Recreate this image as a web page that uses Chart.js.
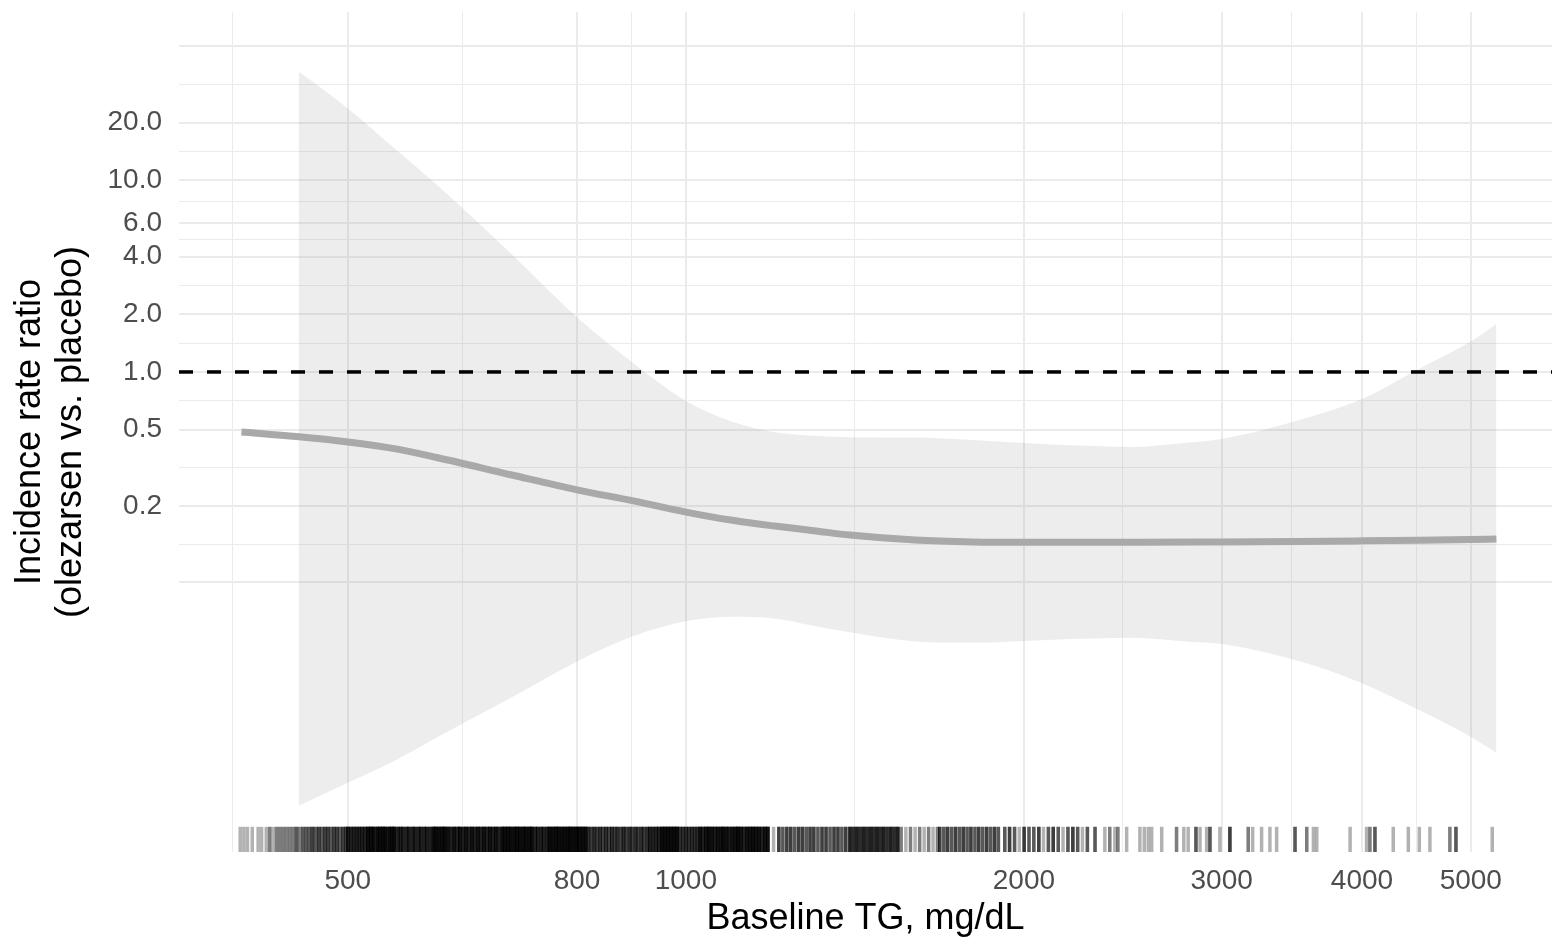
<!DOCTYPE html>
<html>
<head>
<meta charset="utf-8">
<script src="https://cdn.jsdelivr.net/npm/chart.js@4.4.1/dist/chart.umd.min.js"></script>
<style>
  html, body { margin: 0; padding: 0; background: #fff; }
  canvas { display: block; }
</style>
</head>
<body>
<canvas id="chart" width="1552" height="940"></canvas>
<script>
// axis ranges (TG in mg/dL, IRR)
const xRange = [353.7, 5906];
const yRange = [0.00313, 75.5];

// tick positions and labels
const xMajor = [500, 800, 1000, 2000, 3000, 4000, 5000];
const xLabels = ['500', '800', '1000', '2000', '3000', '4000', '5000'];
const xMinor = [395, 632, 894, 1414, 2449, 3464, 4472];
const yMajor = [0.08, 0.2, 0.5, 1, 2, 4, 6, 10, 20, 50];
const yLabels = ['', '0.2', '0.5', '1.0', '2.0', '4.0', '6.0', '10.0', '20.0', ''];
const yMinor = [0.126, 0.316, 0.707, 1.41, 2.83, 4.9, 7.75, 14.1, 31.6];

// confidence band
const bandTG = [452, 500, 550, 600, 700, 800, 900, 1000, 1100, 1200, 1300, 1400, 1600, 1800, 2000, 2200, 2500, 2800, 3000, 3500, 4000, 4500, 5000, 5270];
const bandUpper = [36.9, 23.7, 14.7, 9.47, 4.10, 1.93, 1.10, 0.706, 0.550, 0.485, 0.465, 0.457, 0.455, 0.441, 0.426, 0.414, 0.406, 0.428, 0.447, 0.556, 0.723, 1.04, 1.44, 1.78];
const bandLower = [0.00545, 0.0072, 0.00935, 0.0124, 0.0201, 0.0309, 0.0420, 0.0500, 0.0528, 0.0518, 0.0474, 0.0438, 0.0393, 0.0386, 0.0395, 0.0404, 0.0410, 0.0391, 0.0381, 0.0312, 0.0238, 0.0172, 0.0125, 0.0103];

// fitted IRR
const fitTG = [402, 450, 500, 550, 600, 700, 800, 900, 1000, 1100, 1200, 1300, 1400, 1600, 1800, 2000, 2500, 3000, 3500, 4000, 4500, 5000, 5270];
const fitIRR = [0.486, 0.460, 0.431, 0.398, 0.358, 0.290, 0.2427, 0.2118, 0.1858, 0.1683, 0.157, 0.1486, 0.1409, 0.1327, 0.1297, 0.1291, 0.1291, 0.1297, 0.1305, 0.1315, 0.1325, 0.1336, 0.1344];

// reference line IRR = 1
const refTG = [353.7, 5906];
const refIRR = [1, 1];

// rug: baseline TG values and how many patients overlap at each
const rugTG = [
  401, 404, 407, 411, 416, 419, 423, 426, 429, 432, 435, 438, 441, 444, 447, 450, 453, 456, 459, 462, 465, 468, 471, 474, 477, 480, 483, 486, 489, 492, 495, 498,
  500, 503, 506, 509, 512, 515, 518, 521, 524, 527, 531, 534, 537, 540, 544, 547, 550, 554, 557, 560, 564, 567, 571, 574, 578, 581, 585, 588, 592, 596, 599, 603, 607, 610,
  614, 618, 622, 626, 629, 633, 637, 641, 645, 649, 653, 657, 661, 665, 669, 673, 677, 681, 686, 690, 694, 698, 703, 707, 711, 716, 720, 725, 729,
  734, 738, 743, 747, 752, 756, 761, 766, 770, 775, 780, 785, 789, 794, 799,
  804, 809, 814, 819, 824, 829, 834, 839, 844, 849, 854, 859, 864, 869, 875, 880, 885, 891, 896, 902, 907, 913, 918, 924, 929, 935, 941, 946, 952,
  958, 964, 970, 976, 982, 988, 994, 1000, 1006, 1012, 1018, 1024,
  1030, 1036, 1042, 1048, 1055, 1061, 1067, 1074, 1080, 1087, 1093, 1100, 1107, 1113, 1120, 1127, 1134, 1141, 1148, 1155, 1162, 1169, 1176, 1183, 1197,
  1210, 1220, 1230, 1240, 1250, 1260, 1270, 1280, 1290, 1300, 1311, 1322, 1333, 1344, 1355, 1366, 1377, 1388,
  1400, 1410, 1420, 1430, 1440, 1450, 1460, 1470, 1480, 1490, 1500, 1511, 1522, 1533, 1544,
  1555, 1570, 1585, 1600, 1615, 1630, 1645, 1660, 1675,
  1683, 1697, 1710, 1724, 1738, 1752, 1766, 1780, 1794, 1809, 1823, 1838, 1853, 1868, 1883, 1898,
  1923, 1942, 1962, 1981, 2001, 2021, 2041, 2062, 2082, 2103, 2124, 2146, 2167, 2189, 2211, 2233, 2255, 2278,
  2314, 2361, 2385, 2410, 2425, 2469, 2537, 2560, 2581, 2599, 2653, 2735, 2776, 2801, 2846, 2870, 2909, 2929, 2989, 3051,
  3168, 3197, 3256, 3312, 3358, 3487, 3572, 3621, 3646, 3904, 4038, 4066, 4108, 4265, 4399, 4499, 4598, 4790, 4850, 5225
];
const rugN = [
  1, 1, 1, 1, 1, 1, 1, 2, 1, 2, 2, 2, 2, 2, 2, 3, 2, 3, 3, 3, 4, 3, 4, 3, 4, 4, 3, 4, 4, 3, 4, 4,
  6, 6, 6, 6, 6, 6, 6, 9, 9, 9, 9, 9, 9, 9, 9, 9, 9, 6, 6, 6, 6, 6, 6, 6, 6, 6, 6, 6, 6, 9, 9, 9, 9, 9,
  8, 6, 8, 6, 8, 6, 8, 6, 8, 6, 8, 6, 8, 6, 8, 6, 8, 6, 9, 9, 9, 9, 9, 9, 9, 9, 9, 9, 9,
  6, 6, 6, 6, 6, 9, 9, 9, 9, 9, 9, 9, 9, 9, 9,
  9, 9, 9, 5, 4, 5, 4, 5, 4, 5, 4, 5, 4, 5, 4, 5, 4, 5, 4, 5, 4, 5, 4, 5, 6, 6, 6, 6, 9,
  9, 9, 9, 9, 9, 5, 5, 5, 5, 5, 5, 5,
  8, 6, 8, 9, 8, 6, 8, 8, 9, 8, 6, 8, 8, 9, 8, 6, 8, 8, 9, 8, 8, 6, 8, 8, 1,
  4, 3, 4, 4, 3, 4, 4, 3, 4, 4, 3, 4, 4, 3, 4, 4, 3, 4,
  6, 5, 6, 5, 6, 5, 6, 5, 6, 5, 6, 5, 6, 5, 6,
  2, 1, 2, 1, 2, 1, 2, 1, 2,
  4, 3, 4, 3, 4, 3, 4, 3, 4, 3, 4, 3, 4, 3, 4, 3,
  3, 4, 3, 1, 4, 3, 3, 4, 1, 3, 4, 3, 1, 3, 4, 3, 1, 3,
  3, 1, 2, 1, 2, 1, 1, 1, 1, 1, 1, 2, 1, 1, 3, 1, 1, 3, 1, 4,
  2, 1, 1, 1, 1, 3, 2, 1, 1, 1, 1, 2, 3, 1, 1, 1, 1, 2, 3, 1
];

const FONT = "'Liberation Sans', Arial, Helvetica, sans-serif";
Chart.defaults.font.family = FONT;

const pts = (xs, ys) => xs.map((x, i) => ({ x: x, y: ys[i] }));

// rug marks along the bottom of the panel, placed with the x scale
const rugPlugin = {
  id: 'rug',
  afterDatasetsDraw(chart) {
    const { ctx, chartArea } = chart;
    const x = chart.scales.x;
    const len = (chartArea.bottom - chartArea.top) * 0.03;
    ctx.save();
    ctx.strokeStyle = 'rgba(0,0,0,0.3)';
    ctx.lineWidth = 3.5;
    rugTG.forEach((v, i) => {
      const px = x.getPixelForValue(v);
      for (let k = 0; k < rugN[i]; k++) {
        ctx.beginPath();
        ctx.moveTo(px, chartArea.bottom);
        ctx.lineTo(px, chartArea.bottom - len);
        ctx.stroke();
      }
    });
    ctx.restore();
  }
};

const xTicks = xMajor.concat(xMinor).sort((a, b) => a - b);
const yTicks = yMajor.concat(yMinor).sort((a, b) => a - b);

new Chart(document.getElementById('chart').getContext('2d'), {
  type: 'scatter',
  data: {
    datasets: [
      {
        label: 'fit',
        data: pts(fitTG, fitIRR),
        showLine: true,
        borderColor: '#a9a9a9',
        borderWidth: 7,
        pointRadius: 0,
        cubicInterpolationMode: 'monotone',
        order: 0
      },
      {
        label: 'ref',
        data: pts(refTG, refIRR),
        showLine: true,
        borderColor: '#000000',
        borderWidth: 3.5,
        borderDash: [14, 14],
        pointRadius: 0,
        order: 1
      },
      {
        label: 'lower',
        data: pts(bandTG, bandLower),
        showLine: true,
        borderWidth: 0,
        borderColor: 'rgba(0,0,0,0)',
        pointRadius: 0,
        cubicInterpolationMode: 'monotone',
        fill: false,
        order: 3
      },
      {
        label: 'upper',
        data: pts(bandTG, bandUpper),
        showLine: true,
        borderWidth: 0,
        borderColor: 'rgba(0,0,0,0)',
        backgroundColor: 'rgba(153,153,153,0.18)',
        pointRadius: 0,
        cubicInterpolationMode: 'monotone',
        fill: '-1',
        order: 2
      }
    ]
  },
  options: {
    responsive: false,
    animation: false,
    devicePixelRatio: 1,
    layout: { padding: { top: 12, left: 0, right: 0, bottom: 0 } },
    plugins: {
      legend: { display: false },
      tooltip: { enabled: false }
    },
    scales: {
      x: {
        type: 'logarithmic',
        min: xRange[0],
        max: xRange[1],
        afterBuildTicks: s => { s.ticks = xTicks.map(v => ({ value: v })); },
        afterFit: s => { s.height = 88; s.paddingLeft = 0; s.paddingRight = 0; },
        border: { display: false },
        grid: {
          color: '#ebebeb',
          drawTicks: false,
          lineWidth: c => (c.tick && xMajor.includes(c.tick.value)) ? 2 : 1
        },
        ticks: {
          autoSkip: false,
          maxRotation: 0,
          padding: 12,
          color: '#4d4d4d',
          font: { size: 28 },
          callback: v => { const i = xMajor.indexOf(v); return i >= 0 ? xLabels[i] : ''; }
        },
        title: {
          display: true,
          text: 'Baseline TG, mg/dL',
          color: '#000000',
          font: { size: 36, lineHeight: 1.156 },
          padding: { top: 0, bottom: 0 }
        }
      },
      y: {
        type: 'logarithmic',
        min: yRange[0],
        max: yRange[1],
        afterBuildTicks: s => { s.ticks = yTicks.map(v => ({ value: v })); },
        afterFit: s => { s.width = 179; s.paddingTop = 0; s.paddingBottom = 0; },
        border: { display: false },
        grid: {
          color: '#ebebeb',
          drawTicks: false,
          lineWidth: c => (c.tick && yMajor.includes(c.tick.value)) ? 2 : 1
        },
        ticks: {
          autoSkip: false,
          padding: 17,
          color: '#4d4d4d',
          font: { size: 28 },
          callback: v => { const i = yMajor.indexOf(v); return i >= 0 ? yLabels[i] : ''; }
        },
        title: {
          display: true,
          text: ['Incidence rate ratio', '(olezarsen vs. placebo)'],
          color: '#000000',
          font: { size: 36, lineHeight: 1.156 },
          padding: { top: 9, bottom: 0 }
        }
      }
    }
  },
  plugins: [rugPlugin]
});
</script>
</body>
</html>
